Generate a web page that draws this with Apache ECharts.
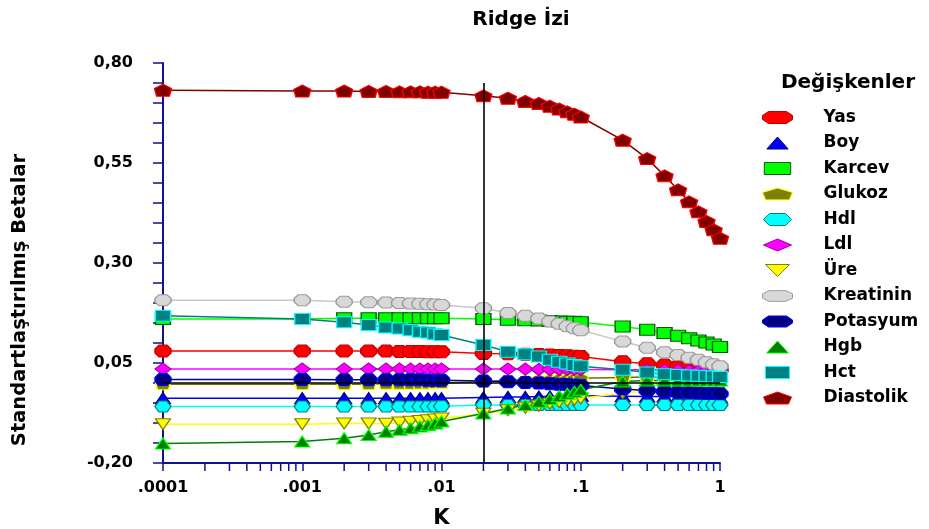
<!DOCTYPE html>
<html>
<head>
<meta charset="utf-8">
<script src="https://cdn.jsdelivr.net/npm/echarts@6/dist/echarts.min.js"></script>
<style>
html,body{margin:0;padding:0;background:#fff;}
#chart{width:929px;height:529px;}
</style>
</head>
<body>
<div id="chart"></div>
<script>
// ---- data ----
var K = [0.0001, 0.001, 0.002, 0.003, 0.004, 0.005, 0.006, 0.007, 0.008, 0.009, 0.01,
         0.02, 0.03, 0.04, 0.05, 0.06, 0.07, 0.08, 0.09, 0.1,
         0.2, 0.3, 0.4, 0.5, 0.6, 0.7, 0.8, 0.9, 1.0];

var yas       = [0.080,0.080,0.080,0.080,0.080,0.079,0.079,0.079,0.078,0.078,0.078,0.074,0.073,0.072,0.071,0.070,0.069,0.068,0.067,0.066,0.053,0.048,0.045,0.042,0.040,0.038,0.036,0.035,0.033];
var boy       = [-0.038,-0.038,-0.038,-0.038,-0.038,-0.038,-0.038,-0.038,-0.038,-0.038,-0.038,-0.036,-0.035,-0.035,-0.034,-0.034,-0.033,-0.033,-0.032,-0.032,-0.033,-0.034,-0.034,-0.035,-0.035,-0.035,-0.036,-0.036,-0.036];
var karcev    = [0.160,0.160,0.162,0.162,0.162,0.162,0.162,0.162,0.162,0.162,0.162,0.160,0.158,0.157,0.156,0.155,0.154,0.153,0.153,0.152,0.141,0.133,0.125,0.118,0.112,0.106,0.101,0.096,0.090];
var glukoz    = [-0.003,-0.003,-0.003,-0.003,-0.002,-0.002,-0.002,-0.001,-0.001,0.000,0.000,0.003,0.006,0.008,0.009,0.010,0.011,0.011,0.012,0.012,0.014,0.015,0.015,0.016,0.016,0.016,0.016,0.016,0.016];
var hdl       = [-0.059,-0.059,-0.059,-0.059,-0.059,-0.059,-0.059,-0.059,-0.059,-0.059,-0.058,-0.055,-0.055,-0.055,-0.055,-0.055,-0.055,-0.055,-0.055,-0.055,-0.055,-0.055,-0.055,-0.055,-0.055,-0.055,-0.055,-0.055,-0.055];
var ldl       = [0.035,0.035,0.035,0.035,0.035,0.035,0.035,0.035,0.035,0.035,0.035,0.035,0.035,0.035,0.034,0.034,0.034,0.034,0.034,0.034,0.033,0.033,0.032,0.032,0.031,0.031,0.031,0.030,0.030];
var ure       = [-0.103,-0.103,-0.101,-0.101,-0.102,-0.099,-0.097,-0.095,-0.093,-0.091,-0.089,-0.077,-0.068,-0.062,-0.057,-0.052,-0.048,-0.045,-0.042,-0.039,-0.025,-0.020,-0.017,-0.015,-0.014,-0.013,-0.012,-0.011,-0.010];
var kreatinin = [0.207,0.207,0.203,0.202,0.201,0.200,0.199,0.198,0.197,0.196,0.195,0.187,0.175,0.168,0.161,0.154,0.148,0.142,0.137,0.132,0.104,0.088,0.077,0.070,0.063,0.058,0.052,0.047,0.042];
var potasyum  = [0.009,0.009,0.008,0.008,0.008,0.008,0.008,0.008,0.007,0.007,0.007,0.005,0.003,0.001,0.000,-0.002,-0.003,-0.004,-0.005,-0.006,-0.015,-0.019,-0.021,-0.023,-0.024,-0.025,-0.026,-0.026,-0.027];
var hgb       = [-0.151,-0.146,-0.138,-0.130,-0.122,-0.117,-0.113,-0.109,-0.105,-0.101,-0.096,-0.076,-0.064,-0.055,-0.047,-0.040,-0.033,-0.027,-0.022,-0.017,0.004,0.006,0.006,0.006,0.006,0.006,0.006,0.006,0.006];
var hct       = [0.168,0.160,0.152,0.145,0.139,0.136,0.132,0.128,0.126,0.122,0.120,0.095,0.078,0.072,0.066,0.058,0.053,0.049,0.045,0.042,0.033,0.026,0.022,0.020,0.019,0.018,0.017,0.016,0.015];
var diastolik = [0.732,0.730,0.730,0.729,0.729,0.728,0.728,0.728,0.727,0.727,0.727,0.718,0.712,0.704,0.699,0.692,0.685,0.678,0.672,0.665,0.607,0.561,0.518,0.483,0.453,0.428,0.404,0.383,0.362];

var seriesNames = ['Yas','Boy','Karcev','Glukoz','Hdl','Ldl','Üre','Kreatinin','Potasyum','Hgb','Hct','Diastolik'];

var xTickValues = [0.0001, 0.001, 0.01, 0.1, 1];
var xTickLabels = ['.0001', '.001', '.01', '.1', '1'];
var xMinorTicks = [0.0002,0.0003,0.0004,0.0005,0.0006,0.0007,0.0008,0.0009,
                   0.002,0.003,0.004,0.005,0.006,0.007,0.008,0.009,
                   0.02,0.03,0.04,0.05,0.06,0.07,0.08,0.09,
                   0.2,0.3,0.4,0.5,0.6,0.7,0.8,0.9];
var refK = 0.02;       // vertical reference line
var refKTop = 0.75;    // top of vertical reference line
var yMin = -0.20, yMax = 0.80, yStep = 0.25;

// ---- styles ----
var FONT = 'DejaVu Sans';
var AXIS = '#12128a';
var OCT = 'path://M4,0 L12,0 L16,4 L16,8 L12,12 L4,12 L0,8 L0,4 Z';
var PENT = 'path://M8,0 L16,4 L14,11 L2,11 L0,4 Z';
var HEX = 'path://M4,0 L12,0 L16,6 L12,12 L4,12 L0,6 Z';

var styles = {
  'Yas':       {line:'#ff0000', fill:'#ff0000', border:'#c00000', symbol:OCT, size:[16,12],
                icon:'path://M6,0 L24,0 L30,4 L30,8 L24,12 L6,12 L0,8 L0,4 Z'},
  'Boy':       {line:'#0000ff', fill:'#0000ff', border:'#000080', symbol:'triangle', size:[15,11],
                icon:'path://M8,0 L16,9 L0,9 Z'},
  'Karcev':    {line:'#00ff00', fill:'#00ff00', border:'#006000', symbol:'rect', size:[15,11],
                icon:'path://M0,0 L22,0 L22,10 L0,10 Z'},
  'Glukoz':    {line:'#707000', fill:'#808000', border:'#ffff00', symbol:PENT, size:[15,11],
                icon:'path://M14,0 L28,4 L25,11 L3,11 L0,4 Z'},
  'Hdl':       {line:'#00ffff', fill:'#00ffff', border:'#008080', symbol:HEX, size:[16,11],
                icon:'path://M6,0 L22,0 L28,6 L22,12 L6,12 L0,6 Z'},
  'Ldl':       {line:'#ff00ff', fill:'#ff00ff', border:'#a000a0', symbol:'diamond', size:[16,12],
                icon:'path://M14,0 L28,6 L14,12 L0,6 Z'},
  'Üre':       {line:'#ffff00', fill:'#ffff00', border:'#808000', symbol:'triangle', size:[15,11], rotate:180,
                icon:'path://M0,0 L20,0 L10,10 Z'},
  'Kreatinin': {line:'#c8c8c8', fill:'#d8d8d8', border:'#9a9a9a', symbol:OCT, size:[16,11],
                icon:'path://M6,0 L22,0 L28,3 L28,7 L22,10 L6,10 L0,7 L0,3 Z'},
  'Potasyum':  {line:'#000080', fill:'#000080', border:'#0000ff', symbol:OCT, size:[16,12],
                icon:'path://M6,0 L24,0 L30,4 L30,7 L24,11 L6,11 L0,7 L0,4 Z'},
  'Hgb':       {line:'#008000', fill:'#008000', border:'#00ff00', symbol:'triangle', size:[15,11],
                icon:'path://M9,0 L18,10 L0,10 Z'},
  'Hct':       {line:'#008080', fill:'#008080', border:'#00ffff', symbol:'rect', size:[15,11],
                icon:'path://M0,0 L20,0 L20,10 L0,10 Z'},
  'Diastolik': {line:'#800000', fill:'#800000', border:'#ff0000', symbol:PENT, size:[17,12],
                icon:'path://M14,0 L28,5 L25,12 L3,12 L0,5 Z'}
};
var values = {
  'Yas':yas,'Boy':boy,'Karcev':karcev,'Glukoz':glukoz,'Hdl':hdl,'Ldl':ldl,'Üre':ure,
  'Kreatinin':kreatinin,'Potasyum':potasyum,'Hgb':hgb,'Hct':hct,'Diastolik':diastolik
};

function pairs(arr){ return K.map(function(k,i){ return [k, arr[i]]; }); }

var series = seriesNames.map(function(name){
  var s = styles[name];
  return {
    name: name,
    type: 'line',
    data: pairs(values[name]),
    symbol: s.symbol,
    symbolSize: s.size,
    symbolRotate: s.rotate || 0,
    showAllSymbol: true,
    lineStyle: {color: s.line, width: 1.5},
    itemStyle: {color: s.fill, borderColor: s.border, borderWidth: 1.2},
    emphasis: {disabled: true},
    animation: false,
    z: 3
  };
});

// reference lines
series.push({
  type: 'line', data: [], silent: true, animation: false,
  markLine: {
    symbol: 'none', silent: true, animation: false, label: {show: false},
    data: [
      [{coord: [refK, yMin]}, {coord: [refK, refKTop]}],
      [{coord: [xTickValues[0], 0]}, {coord: [xTickValues[xTickValues.length-1], 0]}]
    ],
    lineStyle: {color: '#000', width: 1.6, type: 'solid'}
  },
  z: 4
});

// minor ticks on the log x axis
series.push({
  type: 'custom', silent: true, animation: false, clip: false,
  data: xMinorTicks.map(function(k){ return [k, yMin]; }),
  renderItem: function(params, api){
    var p = api.coord([api.value(0), api.value(1)]);
    return {type: 'line', shape: {x1: p[0], y1: p[1], x2: p[0], y2: p[1] + 8},
            style: {stroke: AXIS, lineWidth: 1.5}};
  },
  z: 5
});

var legendData = seriesNames.map(function(name){
  var s = styles[name];
  return {name: name, icon: s.icon,
          itemStyle: {color: s.fill, borderColor: s.border, borderWidth: 1}};
});

var chart = echarts.init(document.getElementById('chart'), null, {renderer: 'canvas'});
chart.setOption({
  backgroundColor: '#ffffff',
  animation: false,
  title: [
    {text: 'Ridge İzi', left: 516, top: 5, textAlign: 'center',
     textStyle: {fontFamily: FONT, fontWeight: 'bold', fontSize: 20, color: '#000'}},
    {text: 'Değişkenler', left: 843, top: 68, textAlign: 'center',
     textStyle: {fontFamily: FONT, fontWeight: 'bold', fontSize: 20, color: '#000'}}
  ],
  legend: {
    orient: 'vertical', left: 757, top: 104,
    itemWidth: 30, itemHeight: 12, itemGap: 8.5,
    data: legendData,
    selectedMode: false,
    textStyle: {fontFamily: FONT, fontWeight: 'bold', fontSize: 17, color: '#000', padding: [0,0,0,26], lineHeight: 14}
  },
  grid: {left: 163, right: 209, top: 63, bottom: 66, containLabel: false, outerBoundsMode: 'none'},
  xAxis: {
    type: 'log', logBase: 10, min: xTickValues[0], max: xTickValues[xTickValues.length-1],
    name: 'K', nameLocation: 'middle', nameGap: 45,
    nameTextStyle: {fontFamily: FONT, fontWeight: 'bold', fontSize: 21, color: '#000'},
    axisLine: {show: true, onZero: false, lineStyle: {color: AXIS, width: 2}},
    axisTick: {show: true, inside: false, length: 8, lineStyle: {color: AXIS, width: 1.5}},
    axisLabel: {
      margin: 17, fontFamily: FONT, fontWeight: 'bold', fontSize: 16, color: '#000',
      formatter: function(v){
        for (var i = 0; i < xTickValues.length; i++) {
          if (Math.abs(Math.log10(v) - Math.log10(xTickValues[i])) < 1e-6) return xTickLabels[i];
        }
        return '';
      }
    },
    splitLine: {show: false}
  },
  yAxis: {
    type: 'value', min: yMin, max: yMax, interval: yStep,
    axisLine: {show: true, onZero: false, lineStyle: {color: AXIS, width: 2}},
    axisTick: {show: true, inside: false, length: 10, lineStyle: {color: AXIS, width: 1.5}},
    minorTick: {show: true, splitNumber: 5, length: 10, lineStyle: {color: AXIS, width: 1.5}},
    axisLabel: {
      margin: 30, fontFamily: FONT, fontWeight: 'bold', fontSize: 16, color: '#000',
      formatter: function(v){ return v.toFixed(2).replace('.', ','); }
    },
    splitLine: {show: false}, minorSplitLine: {show: false}
  },
  graphic: [{
    type: 'text', x: 20, y: 300, rotation: Math.PI / 2,
    style: {text: 'Standartlaştırılmış Betalar', align: 'center', verticalAlign: 'middle',
            font: 'bold 19.5px "DejaVu Sans"', fill: '#000'}
  }],
  series: series
});
</script>
</body>
</html>
